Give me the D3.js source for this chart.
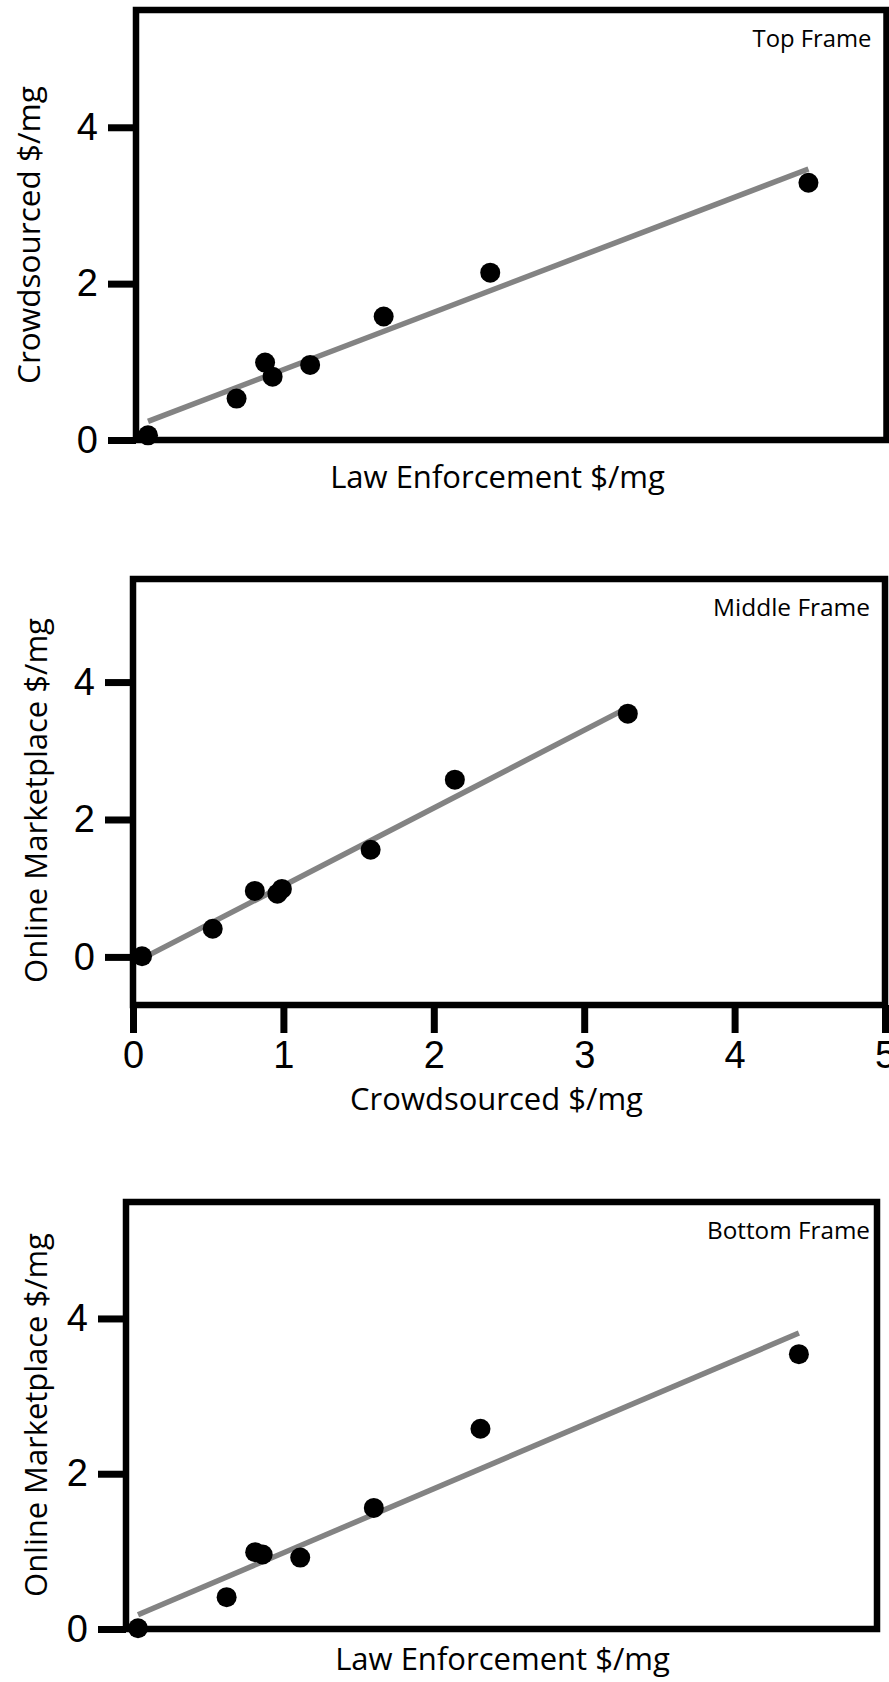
<!DOCTYPE html>
<html><head><meta charset="utf-8">
<script src="https://cdn.jsdelivr.net/npm/d3@7"></script>
<style>body{margin:0;background:#fff;} svg{display:block;}</style>
</head><body>
<script>
// ---- data ----
const lawEnforcement    = [0.08, 0.67, 0.86, 0.91, 1.16, 1.65, 2.36, 4.48];
const crowdsourced      = [0.06, 0.53, 0.99, 0.81, 0.96, 1.58, 2.14, 3.29];
const onlineMarketplace = [0.01, 0.41, 0.99, 0.96, 0.92, 1.56, 2.58, 3.54];
const yTickValues = [0, 2, 4];
const xTickValuesMiddle = [0, 1, 2, 3, 4, 5];
const frameLabels = ["Top Frame", "Middle Frame", "Bottom Frame"];
const xTitles = ["Law Enforcement $/mg", "Crowdsourced $/mg", "Law Enforcement $/mg"];
const yTitles = ["Crowdsourced $/mg", "Online Marketplace $/mg", "Online Marketplace $/mg"];

// ---- layout ----
const W = 889, H = 1682;
const svg = d3.select("body").append("svg").attr("width", W).attr("height", H);
const textFont = "'Open Sans', sans-serif";
const tickFont = "'Liberation Sans', Arial, sans-serif";

const frames = [
  { xs: lawEnforcement, ys: crowdsourced, box: {l:136, r:886.5, t:10, b:440}, xDomain:[0,5], yDomain:[0,5.5], xTicks:false,
    labelInset:15, xTitle:{cx:497.5, base:488, w:335}, yTitle:{cy:235, base:40, w:298} },
  { xs: crowdsourced, ys: onlineMarketplace, box: {l:133, r:885, t:579, b:1005}, xDomain:[0,5], yDomain:[-0.7,5.5], xTicks:true,
    labelInset:15, xTitle:{cx:496.5, base:1110, w:293}, yTitle:{cy:800.5, base:47, w:365} },
  { xs: lawEnforcement, ys: onlineMarketplace, box: {l:126, r:877, t:1202, b:1629}, xDomain:[0,5], yDomain:[0,5.5], xTicks:false,
    labelInset:7, xTitle:{cx:502.5, base:1670, w:335}, yTitle:{cy:1415, base:47, w:364} }
];

function fitText(sel, target, base) {
  sel.style("font-size", base + "px");
  const len = sel.node().getComputedTextLength();
  sel.style("font-size", (base * target / len) + "px");
}

function linreg(xs, ys) {
  const mx = d3.mean(xs), my = d3.mean(ys);
  let sxy = 0, sxx = 0;
  xs.forEach((x, i) => { sxy += (x - mx) * (ys[i] - my); sxx += (x - mx) * (x - mx); });
  const m = sxy / sxx;
  return { m, b: my - m * mx };
}

frames.forEach((f, i) => {
  const bw = f.box.r - f.box.l, bh = f.box.b - f.box.t;
  const g = svg.append("g").attr("transform", `translate(${f.box.l},${f.box.t})`);
  const x = d3.scaleLinear().domain(f.xDomain).range([0, bw]);
  const y = d3.scaleLinear().domain(f.yDomain).range([bh, 0]);

  // y axis ticks
  const ya = g.append("g").call(d3.axisLeft(y).tickValues(yTickValues).tickSize(28).tickSizeOuter(0).tickPadding(10).tickFormat(d3.format("d")));
  ya.select(".domain").remove();
  ya.selectAll("line").attr("stroke", "#000").attr("stroke-width", 7);
  ya.selectAll("text").attr("fill", "#000").style("font-family", tickFont).style("font-size", "38px");

  if (f.xTicks) {
    const xa = g.append("g").attr("transform", `translate(0,${bh})`)
      .call(d3.axisBottom(x).tickValues(xTickValuesMiddle).tickSize(28).tickSizeOuter(0).tickPadding(8).tickFormat(d3.format("d")));
    xa.select(".domain").remove();
    xa.selectAll("line").attr("stroke", "#000").attr("stroke-width", 7);
    xa.selectAll("text").attr("fill", "#000").style("font-family", tickFont).style("font-size", "38px");
  }

  // frame
  g.append("rect").attr("x", 0).attr("y", 0).attr("width", bw).attr("height", bh)
    .attr("fill", "none").attr("stroke", "#000").attr("stroke-width", 6.5);

  // regression line
  const fit = linreg(f.xs, f.ys);
  const x0 = d3.min(f.xs), x1 = d3.max(f.xs);
  g.append("line")
    .attr("x1", x(x0)).attr("y1", y(fit.m * x0 + fit.b))
    .attr("x2", x(x1)).attr("y2", y(fit.m * x1 + fit.b))
    .attr("stroke", "#838383").attr("stroke-width", 5.5);

  // points
  g.selectAll("circle.pt").data(f.xs.map((v, k) => [v, f.ys[k]])).join("circle")
    .attr("class", "pt").attr("cx", d => x(d[0])).attr("cy", d => y(d[1])).attr("r", 10).attr("fill", "#000");

  // frame label
  const fl = g.append("text").attr("x", bw - f.labelInset).attr("y", 37).attr("text-anchor", "end")
    .style("font-family", textFont).attr("fill", "#000").text(frameLabels[i]);
  const flW = [119, 157, 163][i];
  fitText(fl, flW, 24);

  // x title
  const xt = svg.append("text").attr("x", f.xTitle.cx).attr("y", f.xTitle.base).attr("text-anchor", "middle")
    .style("font-family", textFont).attr("fill", "#000").text(xTitles[i]);
  fitText(xt, f.xTitle.w, 30);

  // y title
  const yt = svg.append("text").attr("transform", `translate(${f.yTitle.base},${f.yTitle.cy}) rotate(-90)`)
    .attr("text-anchor", "middle").style("font-family", textFont).attr("fill", "#000").text(yTitles[i]);
  fitText(yt, f.yTitle.w, 30);
});
</script>
</body></html>
